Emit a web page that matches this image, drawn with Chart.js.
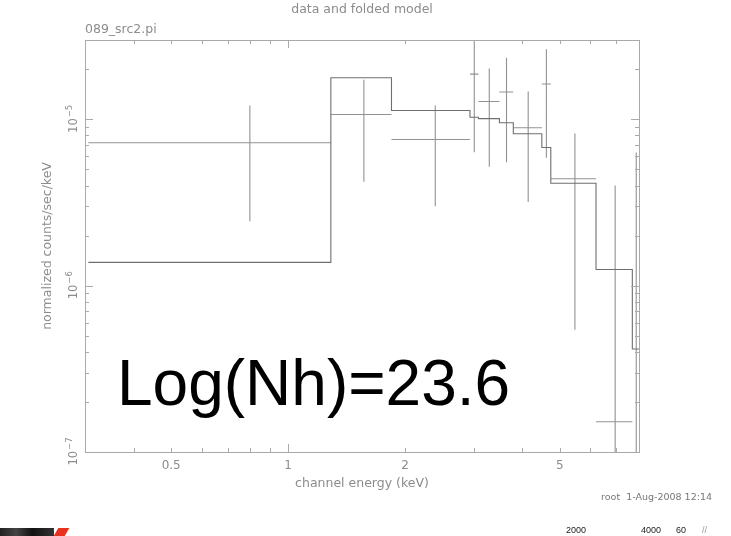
<!DOCTYPE html>
<html>
<head>
<meta charset="utf-8">
<title>data and folded model</title>
<script src="https://cdn.jsdelivr.net/npm/chart.js@4.4.1/dist/chart.umd.min.js"></script>
<style>
    html, body { margin: 0; padding: 0; background: #fff; }
    #wrap { position: relative; width: 731px; height: 536px; overflow: hidden; }
    #spec { position: absolute; left: 0; top: 0; }
    .note { position: absolute; white-space: nowrap; font-family: "Liberation Sans", Arial, sans-serif; }
    #nh { left: 117px; top: 351px; font-size: 64px; line-height: 64px; color: #000; }
    #stamp { right: 19px; top: 491px; font-size: 9.5px; color: #777; font-family: "DejaVu Sans", sans-serif; }
    .strip { top: 525px; font-size: 9px; color: #222; }
    #logo { position: absolute; left: 0; top: 528px; width: 54px; height: 8px;
            background: linear-gradient(90deg, #222, #444 30%, #111 60%, #333); }
    #logoRed { position: absolute; left: 56px; top: 528px; width: 11px; height: 8px;
               background: #e8321e; transform: skewX(-30deg); }
</style>
</head>
<body>
<div id="wrap">
    <canvas id="spec" width="731" height="536"></canvas>
    <div class="note" id="nh">Log(Nh)=23.6</div>
    <div class="note" id="stamp">root &nbsp;1-Aug-2008 12:14</div>
    <div class="note strip" style="left:566px">2000</div>
    <div class="note strip" style="left:641px">4000</div>
    <div class="note strip" style="left:676px">60</div>
    <div class="note strip" style="left:702px;color:#999">//</div>
    <div id="logo"></div>
    <div id="logoRed"></div>
</div>
<script>
"use strict";

//--Data--
//channel bins (keV)
const binLo = [0.306, 1.288, 1.845, 2.938, 3.09, 3.498, 3.798, 4.498, 4.743, 6.201, 7.69];
const binHi = [1.288, 1.845, 2.938, 3.09, 3.498, 3.798, 4.498, 4.743, 6.201, 7.69, 8.05];
//normalized counts/sec/keV
const dataVal = [7.24e-6, 1.07e-5, 7.57e-6, 1.87e-5, 1.28e-5, 1.46e-5, 8.91e-6, 1.63e-5, 4.39e-6, 1.52e-7, 5e-8];
const errLo = [2.44e-6, 4.21e-6, 3.0e-6, 6.35e-6, 5.19e-6, 5.53e-6, 3.18e-6, 5.88e-6, 5.43e-7, 1e-8, 1e-8];
const errHi = [1.21e-5, 1.73e-5, 1.21e-5, 3.3e-5, 2.02e-5, 2.35e-5, 1.47e-5, 2.64e-5, 8.23e-6, 4.0e-6, 6.33e-6];
//folded model
const modelVal = [1.38e-6, 1.78e-5, 1.13e-5, 1.03e-5, 1.01e-5, 9.55e-6, 8.2e-6, 6.78e-6, 4.13e-6, 1.25e-6, 4.16e-7];

//ticks
const xTickLabels = ['0.5', '1', '2', '5'];
const xTickValues = [0.5, 1, 2, 5];
const yTickExps = [-7, -6, -5];

const textColor = '#8c8c8c';
const frameColor = '#a9a9a9';
const thinFont = '"DejaVu Sans", "Liberation Sans", sans-serif';

//data crosses: horizontal bin bar + vertical error bar
const crossPts = [];
binLo.forEach(function(lo, i){
    const mid = (lo + binHi[i]) / 2;
    crossPts.push({x: lo, y: dataVal[i]}, {x: binHi[i], y: dataVal[i]}, {x: mid, y: null});
    crossPts.push({x: mid, y: errLo[i]}, {x: mid, y: errHi[i]}, {x: mid, y: null});
});

//model histogram
const modelPts = binLo.map(function(lo, i){ return {x: lo, y: modelVal[i]}; });
modelPts.push({x: binHi[binHi.length - 1], y: modelVal[modelVal.length - 1]});

//frame, inward ticks and labels (pgplot style)
const framePlugin = {
    id: 'frame',
    afterDraw: function(chart){
        const c = chart.ctx;
        const a = chart.chartArea;
        const xs = chart.scales.x;
        const ys = chart.scales.y;

        c.save();
        c.strokeStyle = frameColor;
        c.lineWidth = 1;
        c.strokeRect(a.left + 0.5, a.top + 0.5, a.right - a.left, a.bottom - a.top);

        c.beginPath();
        //x ticks, top and bottom
        [0.1, 1].forEach(function(dec){
            for (let m = 1; m <= 9; m++) {
                const v = m * dec;
                if (v < xs.min || v > xs.max) continue;
                const px = Math.round(xs.getPixelForValue(v)) + 0.5;
                const len = (m === 1) ? 8 : 4;
                c.moveTo(px, a.bottom); c.lineTo(px, a.bottom - len);
                c.moveTo(px, a.top); c.lineTo(px, a.top + len);
            }
        });
        //y ticks, left and right
        [1e-7, 1e-6, 1e-5].forEach(function(dec){
            for (let m = 1; m <= 9; m++) {
                const v = m * dec;
                if (v < ys.min || v > ys.max * 1.001) continue;
                const py = Math.round(ys.getPixelForValue(v)) + 0.5;
                const len = (m === 1) ? 8 : 4;
                c.moveTo(a.left, py); c.lineTo(a.left + len, py);
                c.moveTo(a.right, py); c.lineTo(a.right - len, py);
            }
        });
        c.stroke();

        c.fillStyle = textColor;
        c.textBaseline = 'middle';

        //title
        c.font = '12.5px ' + thinFont;
        c.textAlign = 'center';
        c.fillText('data and folded model', (a.left + a.right) / 2, 10);
        c.textAlign = 'left';
        c.fillText('089_src2.pi', a.left, 30);

        //x labels
        c.textAlign = 'center';
        c.font = '12px ' + thinFont;
        xTickValues.forEach(function(v, i){
            c.fillText(xTickLabels[i], xs.getPixelForValue(v), 466);
        });
        c.font = '12.5px ' + thinFont;
        c.fillText('channel energy (keV)', (a.left + a.right) / 2, 484);

        //y title
        c.save();
        c.translate(48, (a.top + a.bottom) / 2);
        c.rotate(-Math.PI / 2);
        c.fillText('normalized counts/sec/keV', 0, 0);
        c.restore();

        //y labels 10^n, rotated
        c.textBaseline = 'alphabetic';
        c.textAlign = 'left';
        yTickExps.forEach(function(e){
            const py = ys.getPixelForValue(Math.pow(10, e));
            const sup = '\u2212' + Math.abs(e);
            c.font = '11.5px ' + thinFont;
            const w1 = c.measureText('10').width;
            c.font = '8.5px ' + thinFont;
            const w2 = c.measureText(sup).width;
            c.save();
            c.translate(77, py);
            c.rotate(-Math.PI / 2);
            c.font = '11.5px ' + thinFont;
            c.fillText('10', -(w1 + w2) / 2, 0);
            c.font = '8.5px ' + thinFont;
            c.fillText(sup, -(w1 + w2) / 2 + w1 + 1, -5);
            c.restore();
        });
        c.restore();
    }
};

const config = {
    type: 'line',
    data: {
        datasets: [{
            label: 'model',
            data: modelPts,
            stepped: true,
            borderColor: '#6f6f6f',
            borderWidth: 1.1,
            pointRadius: 0,
            fill: false,
        }, {
            label: 'data',
            data: crossPts,
            borderColor: '#929292',
            borderWidth: 1.1,
            pointRadius: 0,
            spanGaps: false,
            fill: false,
        }]
    },
    options: {
        responsive: false,
        animation: false,
        layout: {
            padding: {left: 85, top: 40, right: 92, bottom: 84},
        },
        scales: {
            x: {type: 'logarithmic', min: 0.305, max: 8.0, display: false},
            y: {type: 'logarithmic', min: 1e-7, max: 3e-5, display: false},
        },
        plugins: {
            legend: {display: false},
            tooltip: {enabled: false},
        },
    },
    plugins: [framePlugin],
};

const specChart = new Chart(document.getElementById('spec'), config);
</script>
</body>
</html>
